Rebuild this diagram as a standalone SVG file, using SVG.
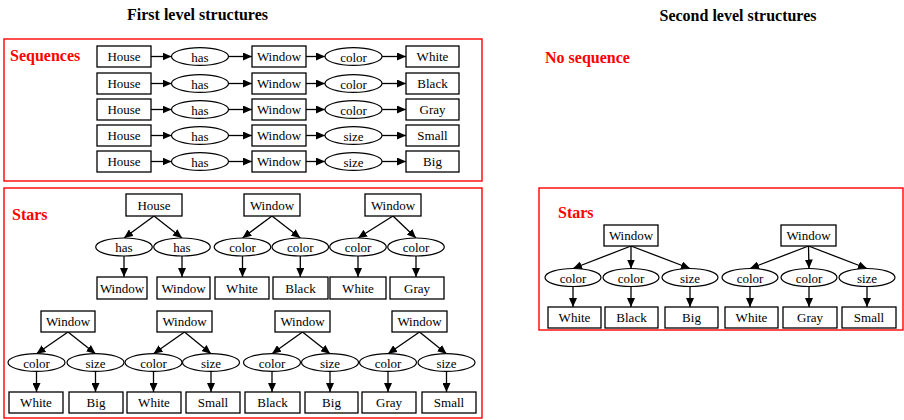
<svg xmlns="http://www.w3.org/2000/svg" width="904" height="420" viewBox="0 0 904 420">
  <defs>
    <marker id="arrow" markerUnits="userSpaceOnUse" markerWidth="9" markerHeight="8" refX="9" refY="4" orient="auto">
      <path d="M0,0 L9,4 L0,8 z" fill="#000"/>
    </marker>
  </defs>
  <style>
    .box { fill: #fff; stroke: #000; stroke-width: 1.3; }
    .ell { fill: #fff; stroke: #000; stroke-width: 1.2; }
    text { font-family: "Liberation Serif", Tinos, "Times New Roman", Times, "Nimbus Roman", "Nimbus Roman No9 L", "Noto Serif", "DejaVu Serif", FreeSerif, serif; }
    .t { font-size: 13px; fill: #000; text-anchor: middle; }
    .title { font-size: 16px; font-weight: bold; fill: #000; text-anchor: middle; }
    .lbl { font-size: 16px; font-weight: bold; fill: #ff0000; }
    .frame { fill: none; stroke: #ff0000; stroke-width: 1.4; }
    .edge { stroke: #000; stroke-width: 1.3; fill: none; marker-end: url(#arrow); }
  </style>
  <rect width="904" height="420" fill="#fff"/>

  <!-- headings -->
  <text class="title" x="197.5" y="20">First level structures</text>
  <text class="title" x="738" y="21">Second level structures</text>

  <!-- section frames and labels -->
  <rect class="frame" x="4" y="39" width="478" height="142"/>
  <rect class="frame" x="4" y="188" width="478" height="230"/>
  <rect class="frame" x="539" y="188" width="364" height="142"/>
  <text class="lbl" x="10" y="61">Sequences</text>
  <text class="lbl" x="12" y="220">Stars</text>
  <text class="lbl" x="545" y="63">No sequence</text>
  <text class="lbl" x="558" y="218">Stars</text>

  <!-- connectors -->
  <g id="connectors">
    <!-- sequences -->
    <line class="edge" x1="151" y1="56.5" x2="171.5" y2="56.5"/>
    <line class="edge" x1="228.5" y1="56.5" x2="252" y2="56.5"/>
    <line class="edge" x1="306" y1="56.5" x2="325" y2="56.5"/>
    <line class="edge" x1="382" y1="56.5" x2="406" y2="56.5"/>
    <line class="edge" x1="151" y1="83.5" x2="171.5" y2="83.5"/>
    <line class="edge" x1="228.5" y1="83.5" x2="252" y2="83.5"/>
    <line class="edge" x1="306" y1="83.5" x2="325" y2="83.5"/>
    <line class="edge" x1="382" y1="83.5" x2="406" y2="83.5"/>
    <line class="edge" x1="151" y1="109.5" x2="171.5" y2="109.5"/>
    <line class="edge" x1="228.5" y1="109.5" x2="252" y2="109.5"/>
    <line class="edge" x1="306" y1="109.5" x2="325" y2="109.5"/>
    <line class="edge" x1="382" y1="109.5" x2="406" y2="109.5"/>
    <line class="edge" x1="151" y1="135.5" x2="171.5" y2="135.5"/>
    <line class="edge" x1="228.5" y1="135.5" x2="252" y2="135.5"/>
    <line class="edge" x1="306" y1="135.5" x2="325" y2="135.5"/>
    <line class="edge" x1="382" y1="135.5" x2="406" y2="135.5"/>
    <line class="edge" x1="151" y1="161.5" x2="171.5" y2="161.5"/>
    <line class="edge" x1="228.5" y1="161.5" x2="252" y2="161.5"/>
    <line class="edge" x1="306" y1="161.5" x2="325" y2="161.5"/>
    <line class="edge" x1="382" y1="161.5" x2="406" y2="161.5"/>
    <!-- first level stars, upper row -->
    <line class="edge" x1="154" y1="216" x2="124" y2="238"/>
    <line class="edge" x1="154" y1="216" x2="182" y2="238"/>
    <line class="edge" x1="272" y1="216" x2="242.5" y2="238"/>
    <line class="edge" x1="272" y1="216" x2="300.3" y2="238"/>
    <line class="edge" x1="393" y1="216" x2="358" y2="238"/>
    <line class="edge" x1="393" y1="216" x2="416" y2="238"/>
    <line class="edge" x1="124" y1="256" x2="124" y2="277"/>
    <line class="edge" x1="182" y1="256" x2="182" y2="277"/>
    <line class="edge" x1="242.5" y1="256" x2="242.5" y2="277"/>
    <line class="edge" x1="300.3" y1="256" x2="300.3" y2="277"/>
    <line class="edge" x1="358" y1="256" x2="358" y2="277"/>
    <line class="edge" x1="416" y1="256" x2="416" y2="277"/>
    <!-- first level stars, lower row -->
    <line class="edge" x1="68" y1="332" x2="36.5" y2="353.7"/>
    <line class="edge" x1="68" y1="332" x2="95.5" y2="353.7"/>
    <line class="edge" x1="184.5" y1="332" x2="153.5" y2="353.7"/>
    <line class="edge" x1="184.5" y1="332" x2="211" y2="353.7"/>
    <line class="edge" x1="302.5" y1="332" x2="272" y2="353.7"/>
    <line class="edge" x1="302.5" y1="332" x2="330" y2="353.7"/>
    <line class="edge" x1="419.5" y1="332" x2="388" y2="353.7"/>
    <line class="edge" x1="419.5" y1="332" x2="446.5" y2="353.7"/>
    <line class="edge" x1="36.5" y1="371.3" x2="36.5" y2="392"/>
    <line class="edge" x1="95.5" y1="371.3" x2="95.5" y2="392"/>
    <line class="edge" x1="153.5" y1="371.3" x2="153.5" y2="392"/>
    <line class="edge" x1="211" y1="371.3" x2="211" y2="392"/>
    <line class="edge" x1="272" y1="371.3" x2="272" y2="392"/>
    <line class="edge" x1="330" y1="371.3" x2="330" y2="392"/>
    <line class="edge" x1="388" y1="371.3" x2="388" y2="392"/>
    <line class="edge" x1="446.5" y1="371.3" x2="446.5" y2="392"/>
    <!-- second level stars -->
    <line class="edge" x1="631" y1="246" x2="573" y2="268.5"/>
    <line class="edge" x1="631" y1="246" x2="631" y2="268.5"/>
    <line class="edge" x1="631" y1="246" x2="690" y2="268.5"/>
    <line class="edge" x1="808.5" y1="246" x2="750" y2="268.5"/>
    <line class="edge" x1="808.5" y1="246" x2="809" y2="268.5"/>
    <line class="edge" x1="808.5" y1="246" x2="867" y2="268.5"/>
    <line class="edge" x1="573" y1="286.5" x2="573" y2="307"/>
    <line class="edge" x1="631" y1="286.5" x2="631" y2="307"/>
    <line class="edge" x1="690" y1="286.5" x2="690" y2="307"/>
    <line class="edge" x1="750" y1="286.5" x2="750" y2="307"/>
    <line class="edge" x1="809" y1="286.5" x2="809" y2="307"/>
    <line class="edge" x1="867" y1="286.5" x2="867" y2="307"/>
  </g>

  <!-- sequences -->
  <g id="seq1-house"><rect class="box" x="97" y="46" width="54" height="21"/><text class="t" x="124" y="61">House</text></g>
  <g id="seq1-has"><ellipse class="ell" cx="200" cy="56.5" rx="28.5" ry="8.8"/><text class="t" x="200" y="62">has</text></g>
  <g id="seq1-window"><rect class="box" x="252" y="46" width="54" height="21"/><text class="t" x="279" y="61">Window</text></g>
  <g id="seq1-attr"><ellipse class="ell" cx="353.5" cy="56.5" rx="28.5" ry="8.8"/><text class="t" x="353.5" y="62">color</text></g>
  <g id="seq1-value"><rect class="box" x="406" y="46" width="53" height="21"/><text class="t" x="432.5" y="61">White</text></g>

  <g id="seq2-house"><rect class="box" x="97" y="73" width="54" height="21"/><text class="t" x="124" y="88">House</text></g>
  <g id="seq2-has"><ellipse class="ell" cx="200" cy="83.5" rx="28.5" ry="8.8"/><text class="t" x="200" y="89">has</text></g>
  <g id="seq2-window"><rect class="box" x="252" y="73" width="54" height="21"/><text class="t" x="279" y="88">Window</text></g>
  <g id="seq2-attr"><ellipse class="ell" cx="353.5" cy="83.5" rx="28.5" ry="8.8"/><text class="t" x="353.5" y="89">color</text></g>
  <g id="seq2-value"><rect class="box" x="406" y="73" width="53" height="21"/><text class="t" x="432.5" y="88">Black</text></g>

  <g id="seq3-house"><rect class="box" x="97" y="99" width="54" height="21"/><text class="t" x="124" y="114">House</text></g>
  <g id="seq3-has"><ellipse class="ell" cx="200" cy="109.5" rx="28.5" ry="8.8"/><text class="t" x="200" y="115">has</text></g>
  <g id="seq3-window"><rect class="box" x="252" y="99" width="54" height="21"/><text class="t" x="279" y="114">Window</text></g>
  <g id="seq3-attr"><ellipse class="ell" cx="353.5" cy="109.5" rx="28.5" ry="8.8"/><text class="t" x="353.5" y="115">color</text></g>
  <g id="seq3-value"><rect class="box" x="406" y="99" width="53" height="21"/><text class="t" x="432.5" y="114">Gray</text></g>

  <g id="seq4-house"><rect class="box" x="97" y="125" width="54" height="21"/><text class="t" x="124" y="140">House</text></g>
  <g id="seq4-has"><ellipse class="ell" cx="200" cy="135.5" rx="28.5" ry="8.8"/><text class="t" x="200" y="141">has</text></g>
  <g id="seq4-window"><rect class="box" x="252" y="125" width="54" height="21"/><text class="t" x="279" y="140">Window</text></g>
  <g id="seq4-attr"><ellipse class="ell" cx="353.5" cy="135.5" rx="28.5" ry="8.8"/><text class="t" x="353.5" y="141">size</text></g>
  <g id="seq4-value"><rect class="box" x="406" y="125" width="53" height="21"/><text class="t" x="432.5" y="140">Small</text></g>

  <g id="seq5-house"><rect class="box" x="97" y="151" width="54" height="21"/><text class="t" x="124" y="166">House</text></g>
  <g id="seq5-has"><ellipse class="ell" cx="200" cy="161.5" rx="28.5" ry="8.8"/><text class="t" x="200" y="167">has</text></g>
  <g id="seq5-window"><rect class="box" x="252" y="151" width="54" height="21"/><text class="t" x="279" y="166">Window</text></g>
  <g id="seq5-attr"><ellipse class="ell" cx="353.5" cy="161.5" rx="28.5" ry="8.8"/><text class="t" x="353.5" y="167">size</text></g>
  <g id="seq5-value"><rect class="box" x="406" y="151" width="53" height="21"/><text class="t" x="432.5" y="166">Big</text></g>

  <!-- first level stars, upper row -->
  <g id="s1-house"><rect class="box" x="126" y="194" width="56" height="22"/><text class="t" x="154" y="210">House</text></g>
  <g id="s1-has-a"><ellipse class="ell" cx="124" cy="247" rx="28.3" ry="9"/><text class="t" x="124" y="252">has</text></g>
  <g id="s1-has-b"><ellipse class="ell" cx="182" cy="247" rx="28.3" ry="9"/><text class="t" x="182" y="252">has</text></g>
  <g id="s1-window-a"><rect class="box" x="97" y="277" width="50" height="22"/><text class="t" x="122" y="293">Window</text></g>
  <g id="s1-window-b"><rect class="box" x="157" y="277" width="53" height="22"/><text class="t" x="183.5" y="293">Window</text></g>

  <g id="s2-window"><rect class="box" x="244" y="194" width="56" height="22"/><text class="t" x="272" y="210">Window</text></g>
  <g id="s2-color-a"><ellipse class="ell" cx="242.5" cy="247" rx="28.3" ry="9"/><text class="t" x="242.5" y="252">color</text></g>
  <g id="s2-color-b"><ellipse class="ell" cx="300.3" cy="247" rx="28.3" ry="9"/><text class="t" x="300.3" y="252">color</text></g>
  <g id="s2-white"><rect class="box" x="215" y="277" width="54" height="22"/><text class="t" x="242" y="293">White</text></g>
  <g id="s2-black"><rect class="box" x="273" y="277" width="55" height="22"/><text class="t" x="300.5" y="293">Black</text></g>

  <g id="s3-window"><rect class="box" x="365" y="194" width="56" height="22"/><text class="t" x="393" y="210">Window</text></g>
  <g id="s3-color-a"><ellipse class="ell" cx="358" cy="247" rx="28.3" ry="9"/><text class="t" x="358" y="252">color</text></g>
  <g id="s3-color-b"><ellipse class="ell" cx="416" cy="247" rx="28.3" ry="9"/><text class="t" x="416" y="252">color</text></g>
  <g id="s3-white"><rect class="box" x="330" y="277" width="56" height="22"/><text class="t" x="358" y="293">White</text></g>
  <g id="s3-gray"><rect class="box" x="390" y="277" width="54" height="22"/><text class="t" x="417" y="293">Gray</text></g>

  <!-- first level stars, lower row -->
  <g id="s4-window"><rect class="box" x="41" y="311" width="54" height="21"/><text class="t" x="68" y="326">Window</text></g>
  <g id="s4-color"><ellipse class="ell" cx="36.5" cy="362.5" rx="28.5" ry="8.8"/><text class="t" x="36.5" y="367.5">color</text></g>
  <g id="s4-size"><ellipse class="ell" cx="95.5" cy="362.5" rx="28.5" ry="8.8"/><text class="t" x="95.5" y="367.5">size</text></g>
  <g id="s4-white"><rect class="box" x="9" y="392" width="54" height="21"/><text class="t" x="36" y="407">White</text></g>
  <g id="s4-big"><rect class="box" x="69" y="392" width="54" height="21"/><text class="t" x="96" y="407">Big</text></g>

  <g id="s5-window"><rect class="box" x="157" y="311" width="55" height="21"/><text class="t" x="184.5" y="326">Window</text></g>
  <g id="s5-color"><ellipse class="ell" cx="153.5" cy="362.5" rx="28.5" ry="8.8"/><text class="t" x="153.5" y="367.5">color</text></g>
  <g id="s5-size"><ellipse class="ell" cx="211" cy="362.5" rx="28.5" ry="8.8"/><text class="t" x="211" y="367.5">size</text></g>
  <g id="s5-white"><rect class="box" x="127" y="392" width="54" height="21"/><text class="t" x="154" y="407">White</text></g>
  <g id="s5-small"><rect class="box" x="186" y="392" width="54" height="21"/><text class="t" x="213" y="407">Small</text></g>

  <g id="s6-window"><rect class="box" x="275" y="311" width="55" height="21"/><text class="t" x="302.5" y="326">Window</text></g>
  <g id="s6-color"><ellipse class="ell" cx="272" cy="362.5" rx="28.5" ry="8.8"/><text class="t" x="272" y="367.5">color</text></g>
  <g id="s6-size"><ellipse class="ell" cx="330" cy="362.5" rx="28.5" ry="8.8"/><text class="t" x="330" y="367.5">size</text></g>
  <g id="s6-black"><rect class="box" x="245" y="392" width="55" height="21"/><text class="t" x="272.5" y="407">Black</text></g>
  <g id="s6-big"><rect class="box" x="305" y="392" width="53" height="21"/><text class="t" x="331.5" y="407">Big</text></g>

  <g id="s7-window"><rect class="box" x="392" y="311" width="55" height="21"/><text class="t" x="419.5" y="326">Window</text></g>
  <g id="s7-color"><ellipse class="ell" cx="388" cy="362.5" rx="28.5" ry="8.8"/><text class="t" x="388" y="367.5">color</text></g>
  <g id="s7-size"><ellipse class="ell" cx="446.5" cy="362.5" rx="28.5" ry="8.8"/><text class="t" x="446.5" y="367.5">size</text></g>
  <g id="s7-gray"><rect class="box" x="362" y="392" width="54" height="21"/><text class="t" x="389" y="407">Gray</text></g>
  <g id="s7-small"><rect class="box" x="422" y="392" width="54" height="21"/><text class="t" x="449" y="407">Small</text></g>

  <!-- second level stars -->
  <g id="t1-window"><rect class="box" x="604" y="225" width="54" height="21"/><text class="t" x="631" y="240">Window</text></g>
  <g id="t1-color-a"><ellipse class="ell" cx="573" cy="277.5" rx="28" ry="9"/><text class="t" x="573" y="282.5">color</text></g>
  <g id="t1-color-b"><ellipse class="ell" cx="631" cy="277.5" rx="28" ry="9"/><text class="t" x="631" y="282.5">color</text></g>
  <g id="t1-size"><ellipse class="ell" cx="690" cy="277.5" rx="28" ry="9"/><text class="t" x="690" y="282.5">size</text></g>
  <g id="t1-white"><rect class="box" x="548" y="307" width="53" height="21"/><text class="t" x="574.5" y="322">White</text></g>
  <g id="t1-black"><rect class="box" x="605" y="307" width="53" height="21"/><text class="t" x="631.5" y="322">Black</text></g>
  <g id="t1-big"><rect class="box" x="665" y="307" width="53" height="21"/><text class="t" x="691.5" y="322">Big</text></g>

  <g id="t2-window"><rect class="box" x="781" y="225" width="55" height="21"/><text class="t" x="808.5" y="240">Window</text></g>
  <g id="t2-color-a"><ellipse class="ell" cx="750" cy="277.5" rx="28" ry="9"/><text class="t" x="750" y="282.5">color</text></g>
  <g id="t2-color-b"><ellipse class="ell" cx="809" cy="277.5" rx="28" ry="9"/><text class="t" x="809" y="282.5">color</text></g>
  <g id="t2-size"><ellipse class="ell" cx="867" cy="277.5" rx="28" ry="9"/><text class="t" x="867" y="282.5">size</text></g>
  <g id="t2-white"><rect class="box" x="725" y="307" width="53" height="21"/><text class="t" x="751.5" y="322">White</text></g>
  <g id="t2-gray"><rect class="box" x="783" y="307" width="54" height="21"/><text class="t" x="810" y="322">Gray</text></g>
  <g id="t2-small"><rect class="box" x="842" y="307" width="54" height="21"/><text class="t" x="869" y="322">Small</text></g>
</svg>
